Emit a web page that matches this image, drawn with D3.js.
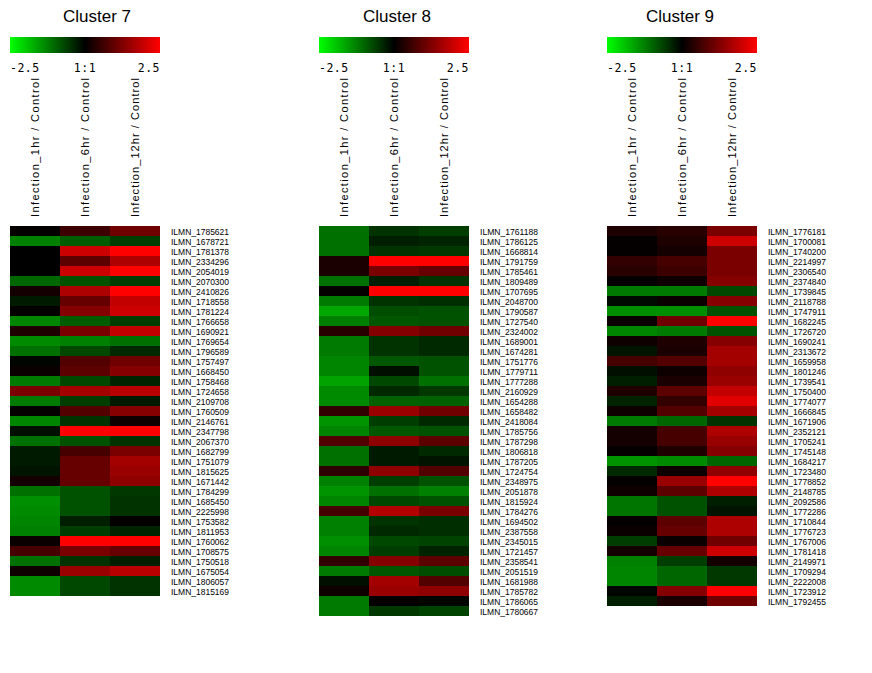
<!DOCTYPE html>
<html>
<head>
<meta charset="utf-8">
<script src="https://cdn.jsdelivr.net/npm/d3@7/dist/d3.min.js"></script>
<style>
html,body{margin:0;padding:0;background:#fff;}
svg{display:block;}
</style>
</head>
<body>
<svg id="chart" width="872" height="673"></svg>
<script>
// ---------------- DATA ----------------
const columns = ["Infection_1hr / Control", "Infection_6hr / Control", "Infection_12hr / Control"];
const legendTicks = ["-2.5", "1:1", "2.5"];
const legendDomain = [-2.5, 0, 2.5];

const cluster7Title = "Cluster 7";
const cluster7Genes = ["ILMN_1785621","ILMN_1678721","ILMN_1781378","ILMN_2334296","ILMN_2054019","ILMN_2070300","ILMN_2410826","ILMN_1718558","ILMN_1781224","ILMN_1766658","ILMN_1690921","ILMN_1769654","ILMN_1796589","ILMN_1757497","ILMN_1668450","ILMN_1758468","ILMN_1724658","ILMN_2109708","ILMN_1760509","ILMN_2146761","ILMN_2347798","ILMN_2067370","ILMN_1682799","ILMN_1751079","ILMN_1815625","ILMN_1671442","ILMN_1784299","ILMN_1685450","ILMN_2225998","ILMN_1753582","ILMN_1811953","ILMN_1760062","ILMN_1708575","ILMN_1750518","ILMN_1675054","ILMN_1806057","ILMN_1815169"];
const cluster7Values = [
  [0.05,0.6,1.1],[-1.25,-0.9,-0.6],[0,2.0,2.5],[0,0.9,1.7],[0,2.0,2.5],
  [-1.0,-0.8,-0.6],[0.2,1.7,2.5],[-0.25,1.0,1.9],[0.05,1.3,2.0],[-1.3,-0.9,-0.6],
  [0.3,1.2,1.9],[-1.35,-1.25,-1.1],[-1.1,-0.7,-0.4],[-0.05,0.8,1.1],[0.1,0.9,1.3],
  [-1.2,-0.7,-0.35],[1.2,1.6,1.8],[-1.2,-0.6,-0.25],[0.05,0.8,1.3],[-1.3,-0.5,0.15],
  [-0.15,2.5,2.5],[-1.1,-0.8,-0.5],[-0.25,0.7,1.2],[-0.25,1.0,1.6],[-0.2,1.0,1.5],
  [0.2,1.0,1.4],[-1.1,-0.8,-0.55],[-1.4,-0.8,-0.5],[-1.35,-0.8,-0.5],[-1.3,-0.3,0.05],
  [-1.25,-0.6,-0.35],[0.1,2.5,2.5],[0.7,1.2,1.0],[-1.1,-0.5,-0.3],[0.15,1.5,1.8],
  [-1.35,-0.7,-0.5],[-1.35,-0.7,-0.5]
];

const cluster8Title = "Cluster 8";
const cluster8Genes = ["ILMN_1761188","ILMN_1786125","ILMN_1668814","ILMN_1791759","ILMN_1785461","ILMN_1809489","ILMN_1707695","ILMN_2048700","ILMN_1790587","ILMN_1727540","ILMN_2324002","ILMN_1689001","ILMN_1674281","ILMN_1751776","ILMN_1779711","ILMN_1777288","ILMN_2160929","ILMN_1654288","ILMN_1658482","ILMN_2418084","ILMN_1785756","ILMN_1787298","ILMN_1806818","ILMN_1787205","ILMN_1724754","ILMN_2348975","ILMN_2051878","ILMN_1815924","ILMN_1784276","ILMN_1694502","ILMN_2387558","ILMN_2345015","ILMN_1721457","ILMN_2358541","ILMN_2051519","ILMN_1681988","ILMN_1785782","ILMN_1786065","ILMN_1780667"];
const cluster8Values = [
  [-1.1,-0.5,-0.6],[-1.1,-0.3,-0.35],[-1.1,-0.5,-0.55],[0.25,2.5,2.5],[0.25,1.2,1.0],
  [-1.1,-0.3,-0.5],[0.05,2.5,2.5],[-1.2,-0.5,-0.45],[-1.65,-0.75,-0.8],[-1.25,-0.85,-0.8],
  [0.4,1.3,1.1],[-1.2,-0.5,-0.4],[-1.2,-0.5,-0.4],[-1.3,-0.85,-0.8],[-1.3,-0.15,-0.8],
  [-1.6,-0.7,-1.1],[-1.35,-0.4,-0.55],[-1.35,-0.95,-0.95],[0.5,1.5,1.1],[-1.45,-0.6,-0.4],
  [-1.3,-0.85,-0.8],[0.8,1.4,0.9],[-1.1,-0.25,-0.4],[-1.1,-0.25,-0.2],[0.45,1.4,0.8],
  [-1.25,-0.6,-0.8],[-1.45,-1.1,-1.25],[-1.3,-0.7,-0.8],[0.7,1.75,1.2],[-1.25,-0.5,-0.45],
  [-1.25,-0.4,-0.45],[-1.4,-0.7,-0.65],[-1.3,-0.6,-0.35],[0.5,1.3,0.9],[-1.2,-0.85,-0.75],
  [-0.15,1.6,0.8],[0.15,1.5,1.4],[-1.2,0.05,-0.05],[-1.2,-0.55,-0.65]
];

const cluster9Title = "Cluster 9";
const cluster9Genes = ["ILMN_1776181","ILMN_1700081","ILMN_1740200","ILMN_2214997","ILMN_2306540","ILMN_2374840","ILMN_1739845","ILMN_2118788","ILMN_1747911","ILMN_1682245","ILMN_1726720","ILMN_1690241","ILMN_2313672","ILMN_1659958","ILMN_1801246","ILMN_1739541","ILMN_1750400","ILMN_1774077","ILMN_1666845","ILMN_1671906","ILMN_2352121","ILMN_1705241","ILMN_1745148","ILMN_1684217","ILMN_1723480","ILMN_1778852","ILMN_2148785","ILMN_2092586","ILMN_1772286","ILMN_1710844","ILMN_1776723","ILMN_1767006","ILMN_1781418","ILMN_2149971","ILMN_1709294","ILMN_2222008","ILMN_1723912","ILMN_1792455"];
const cluster9Values = [
  [0.3,0.4,1.2],[0.05,0.3,2.0],[0.05,0.2,1.2],[0.5,0.7,1.2],[0.4,0.6,1.2],
  [0.05,0.15,1.3],[-1.2,-1.2,-0.7],[-0.1,0.1,1.3],[-1.4,-1.4,-0.8],[0.1,1.1,2.5],
  [-1.3,-1.2,-0.8],[0.15,0.3,1.3],[-0.2,0.25,1.6],[0.7,0.8,1.6],[-0.15,0.15,1.4],
  [-0.3,0.25,1.5],[0.3,0.9,1.9],[-0.35,0.5,2.2],[0.15,0.8,1.6],[-1.2,-1.0,-0.5],
  [0.2,0.7,1.7],[0.2,0.7,1.5],[0.05,0.3,1.3],[-1.45,-1.35,-1.0],[-0.4,0.15,1.4],
  [0.05,1.5,2.5],[0.15,0.9,1.7],[-1.15,-0.8,-0.3],[-1.15,-0.8,-0.2],[0.05,0.9,1.7],
  [0.1,1.0,1.7],[-0.6,0.1,1.1],[0.2,1.0,2.0],[-1.25,-0.6,0.2],[-1.3,-1.0,-0.55],
  [-1.3,-1.0,-0.55],[-0.05,1.3,2.5],[-0.3,0.25,1.1]
];

// ---------------- LAYOUT ----------------
const panels = [
  {title: cluster7Title, genes: cluster7Genes, values: cluster7Values, x0: 10,  titleX: 97},
  {title: cluster8Title, genes: cluster8Genes, values: cluster8Values, x0: 319, titleX: 397},
  {title: cluster9Title, genes: cluster9Genes, values: cluster9Values, x0: 607, titleX: 680}
];
const cellW = 50, cellH = 10, heatTop = 226;

const svg = d3.select("#chart");
const color = d3.scaleLinear().domain(legendDomain).range(["#00ff00", "#000000", "#ff0000"]).clamp(true);

const defs = svg.append("defs");
const grad = defs.append("linearGradient").attr("id", "lg").attr("x1", "0%").attr("x2", "100%");
legendDomain.forEach((d, i) => {
  grad.append("stop").attr("offset", (i / (legendDomain.length - 1) * 100) + "%").attr("stop-color", color(d));
});

panels.forEach(p => {
  const g = svg.append("g");
  const x = d3.scaleBand().domain(columns).range([p.x0, p.x0 + cellW * columns.length]).padding(0);
  const y = d3.scaleBand().domain(p.genes).range([heatTop, heatTop + cellH * p.genes.length]).padding(0);
  const lx = d3.scaleLinear().domain([legendDomain[0], legendDomain[2]]).range([p.x0, p.x0 + cellW * columns.length]);

  // title
  g.append("text").attr("x", p.titleX).attr("y", 22).attr("text-anchor", "middle")
    .attr("font-family", "Liberation Sans, Arial, sans-serif").attr("font-size", 17).attr("fill", "#000")
    .text(p.title);

  // legend bar
  g.append("rect").attr("x", lx(legendDomain[0])).attr("y", 37)
    .attr("width", lx(legendDomain[2]) - lx(legendDomain[0])).attr("height", 16)
    .attr("fill", "url(#lg)");
  const anchors = ["start", "middle", "end"];
  legendTicks.forEach((t, i) => {
    g.append("text").attr("x", lx(legendDomain[i])).attr("y", 72)
      .attr("text-anchor", anchors[i])
      .attr("font-family", "DejaVu Sans Mono, monospace").attr("font-size", 11.5).attr("fill", "#000")
      .attr("letter-spacing", 0.5)
      .text(t);
  });

  // column labels
  columns.forEach(c => {
    const cx = x(c) + x.bandwidth() / 2 + 4;
    g.append("text").attr("transform", `translate(${cx},217) rotate(-90)`)
      .attr("text-anchor", "start")
      .attr("font-family", "Liberation Sans, Arial, sans-serif").attr("font-size", 11).attr("fill", "#000")
      .attr("textLength", 139).attr("lengthAdjust", "spacing")
      .text(c);
  });

  // cells
  const cells = [];
  p.genes.forEach((gene, r) => columns.forEach((c, k) => cells.push({gene, col: c, v: p.values[r][k]})));
  g.selectAll("rect.cell").data(cells).enter().append("rect")
    .attr("class", "cell")
    .attr("x", d => x(d.col)).attr("y", d => y(d.gene))
    .attr("width", x.bandwidth()).attr("height", y.bandwidth())
    .attr("fill", d => color(d.v)).attr("shape-rendering", "crispEdges");

  // row labels
  g.selectAll("text.row").data(p.genes).enter().append("text")
    .attr("class", "row")
    .attr("x", p.x0 + cellW * columns.length + 11)
    .attr("y", d => y(d) + y.bandwidth() / 2 + 3.5)
    .attr("font-family", "Liberation Sans Narrow, Liberation Sans, Arial, sans-serif").attr("font-size", 9)
    .attr("fill", "#000")
    .attr("textLength", 58).attr("lengthAdjust", "spacingAndGlyphs")
    .text(d => d);
});
</script>
</body>
</html>
